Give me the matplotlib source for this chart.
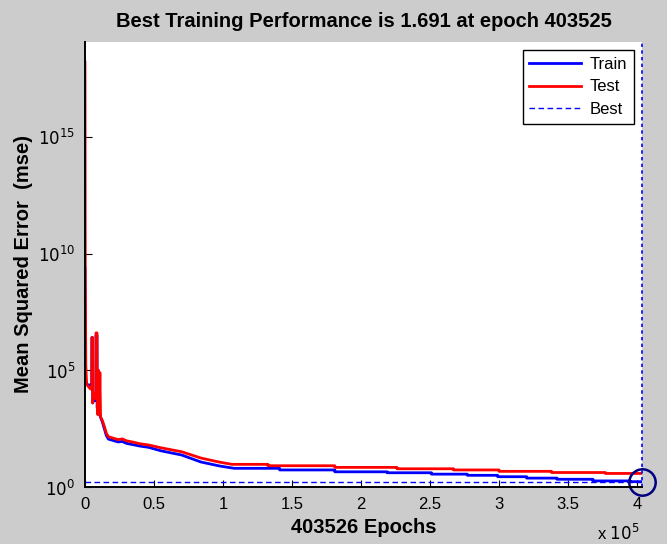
import numpy as np
import matplotlib
matplotlib.use("Agg")
import matplotlib.pyplot as plt

plt.rcParams['font.family'] = ['Liberation Sans', 'DejaVu Sans']

# Test (red) curve: epoch, log10(mse)
test_epochs = [0, 200, 600, 1200, 2500, 4000, 4900, 5000, 5500, 5600, 6500, 7500, 7900,
               8000, 8700, 8800, 9300, 9800, 10300, 10800, 11300, 12500, 14000, 15500,
               17000, 20000, 24000, 27000, 30000, 35000, 40000, 46000, 55000, 62000,
               70000, 84000, 97000, 106500,
               132600, 132600, 181000, 181000, 226000, 226000, 267000, 267000,
               300000, 300000, 338000, 338000, 377000, 377000, 403525]
test_log = [18.2, 9.4, 5.2, 4.4, 4.3, 4.2, 4.2, 6.4, 6.4, 3.6, 4.0, 3.8, 3.8,
            6.6, 6.6, 5.1, 3.1, 5.0, 3.2, 4.9, 3.0, 2.86, 2.6, 2.3,
            2.15, 2.1, 2.03, 2.06, 1.98, 1.92, 1.85, 1.8, 1.68, 1.6,
            1.51, 1.24, 1.07, 0.97,
            0.97, 0.91, 0.91, 0.84, 0.84, 0.78, 0.78, 0.73,
            0.73, 0.67, 0.67, 0.62, 0.62, 0.58, 0.58]

# Train (blue) curve: epoch, log10(mse)
train_epochs = [0, 300, 1500, 3000, 4500, 4900, 5000, 5500, 5600, 6500, 7500, 7900,
                8000, 8700, 8800, 10000, 11500, 12500, 14000, 15500, 17000, 20000,
                24000, 27000, 30000, 40000, 46000, 55000, 70000, 84000, 97500, 108000,
                141000, 141000, 181000, 181000, 219000, 219000, 251000, 251000,
                277000, 277000, 299000, 299000, 320000, 320000, 342000, 342000,
                368000, 368000, 395000, 395000, 403525]
train_log = [9.4, 4.6, 4.4, 4.35, 4.4, 4.4, 6.4, 6.4, 3.6, 3.9, 3.7, 3.7,
             6.5, 6.5, 3.4, 3.2, 2.95, 2.8, 2.5, 2.2, 2.05, 2.0,
             1.93, 1.95, 1.87, 1.75, 1.70, 1.55, 1.37, 1.07, 0.9, 0.8,
             0.8, 0.73, 0.73, 0.65, 0.65, 0.61, 0.61, 0.55,
             0.55, 0.50, 0.50, 0.44, 0.44, 0.38, 0.38, 0.33,
             0.33, 0.26, 0.26, 0.228, 0.228]

best_epoch = 403525
best_perf = 1.691
total_epochs = 403526
x_ticks = [0, 50000, 100000, 150000, 200000, 250000, 300000, 350000, 400000]
y_ticks = [1e0, 1e5, 1e10, 1e15]

fig = plt.figure(figsize=(6.67, 5.44), dpi=100, facecolor='#cccccc')
ax = fig.add_axes([0.1274, 0.1048, 0.8351, 0.818])

ax.plot(train_epochs, 10 ** np.array(train_log), color='blue', lw=2, label='Train')
ax.plot(test_epochs, 10 ** np.array(test_log), color='red', lw=2, label='Test')
ax.axhline(best_perf, color='blue', lw=1, ls=(0, (4, 2.5)), label='Best')
ax.axvline(best_epoch, color='blue', lw=1.2, ls=(0, (2, 2)), clip_on=False)
ax.plot([best_epoch], [best_perf], 'o', ms=19, mfc='none', mec='#000080', mew=1.8, clip_on=False)

ax.set_yscale('log')
ax.set_xlim(0, total_epochs)
ax.set_ylim(1, 10 ** 19.06)
ax.set_yticks(y_ticks)
ax.set_yticklabels([r'$10^{%d}$' % int(np.log10(v)) for v in y_ticks])
ax.yaxis.set_minor_locator(matplotlib.ticker.NullLocator())
ax.set_xticks(x_ticks)
ax.set_xticklabels(['%g' % (v / 1e5) for v in x_ticks])
ax.tick_params(direction='in', length=5, labelsize=12, pad=7)

for s in ['top', 'right']:
    ax.spines[s].set_visible(False)
for s in ['left', 'bottom']:
    ax.spines[s].set_linewidth(1.4)

ax.set_title('Best Training Performance is %.3f at epoch %d' % (best_perf, best_epoch),
             fontsize=14.5, fontweight='bold', pad=11)
ax.set_xlabel('%d Epochs' % total_epochs, fontsize=14.5, fontweight='bold')
ax.xaxis.set_label_coords(0.5, -0.07)
ax.set_ylabel('Mean Squared Error  (mse)', fontsize=14.5, fontweight='bold')
ax.yaxis.set_label_coords(-0.093, 0.5)
ax.text(0.996, -0.103, r'x $10^{5}$', transform=ax.transAxes, fontsize=12, ha='right', va='center')

leg = ax.legend(loc='upper right', fontsize=12, fancybox=False, framealpha=1,
                edgecolor='black', handlelength=3.1, labelspacing=0.45,
                borderaxespad=0.5, handletextpad=0.5)
leg.get_frame().set_linewidth(1)

fig.savefig('out.png', dpi=100, facecolor=fig.get_facecolor())
